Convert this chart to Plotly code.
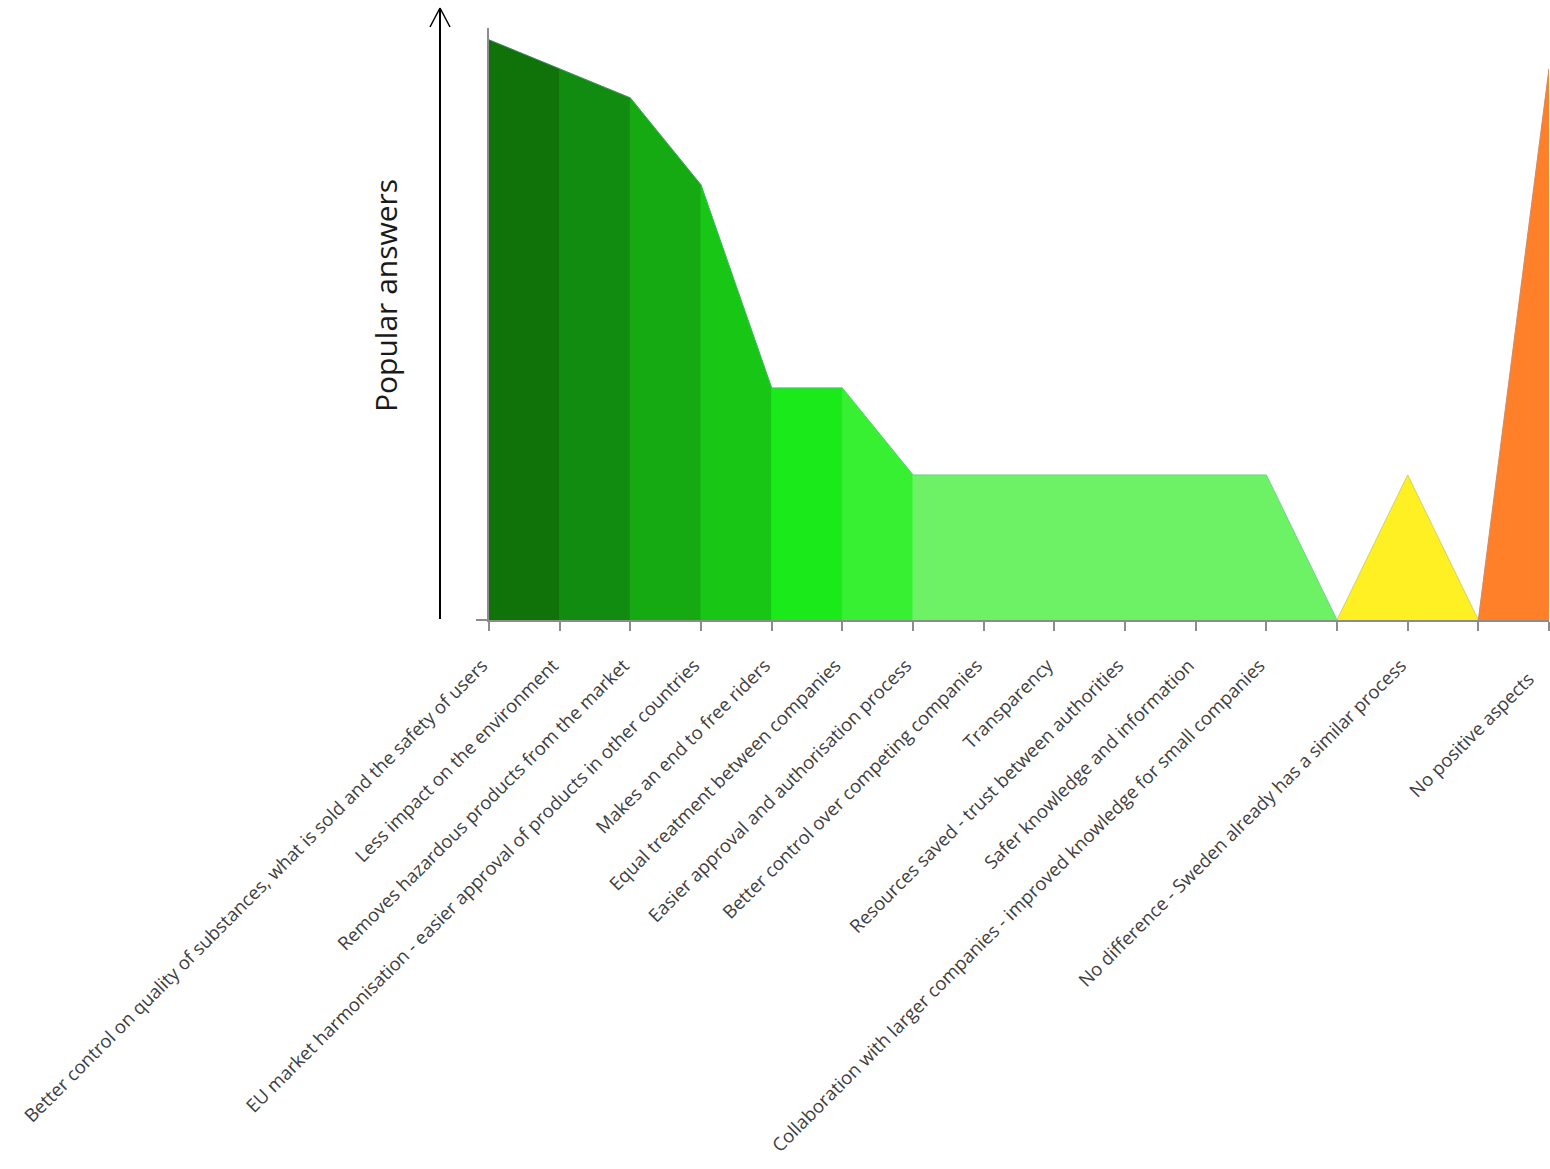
import plotly.graph_objects as go

# ---- data ----
categories = [
    "Better control on quality of substances, what is sold and the safety of users",
    "Less impact on the environment",
    "Removes hazardous products from the market",
    "EU market harmonisation - easier approval of products in other countries",
    "Makes an end to free riders",
    "Equal treatment between companies",
    "Easier approval and authorisation process",
    "Better control over competing companies",
    "Transparency",
    "Resources saved - trust between authorities",
    "Safer knowledge and information",
    "Collaboration with larger companies - improved knowledge for small companies",
    "",
    "No difference - Sweden already has a similar process",
    "",
    "No positive aspects",
]
values = [20, 19, 18, 15, 8, 8, 5, 5, 5, 5, 5, 5, 0, 5, 0, 19]
segment_colors = [
    "#10730a", "#128c10", "#16aa12", "#18c616", "#1aea1a", "#38f032",
    "#6cf264", "#6cf264", "#6cf264", "#6cf264", "#6cf264", "#6cf264",
    "#fff023", "#fff023", "#ff8028",
]
y_title = "Popular answers"

# ---- layout geometry (page pixels; body margin removed) ----
W, H = 1550, 1169
ML = 489
MT = 28
BASE = 620
RIGHT = 1549
MR = W - RIGHT
MB = H - BASE
PW = W - ML - MR
PH = H - MT - MB
YMAX = 20.41


def px_x(p):
    return (p - ML) / PW


def px_y(p):
    return (BASE - p) / PH


x = list(range(len(values)))
# pad labels so their ends sit just left of the tick (as in the reference);
# the label at the right edge gets more room so it stays inside the page
tick_text = []
for i, c in enumerate(categories):
    if not c:
        tick_text.append(c)
    else:
        pad = 6 if i == len(categories) - 1 else 2
        tick_text.append(c + "\u00a0" * pad)

fig = go.Figure()
for i, col in enumerate(segment_colors):
    fig.add_trace(go.Scatter(
        x=[x[i], x[i], x[i + 1], x[i + 1], x[i]],
        y=[0, values[i], values[i + 1], 0, 0],
        mode="lines", fill="toself", fillcolor=col,
        line=dict(width=1, color=col), hoverinfo="skip", showlegend=False,
    ))
# thin edge line along top
fig.add_trace(go.Scatter(
    x=x, y=values, mode="lines",
    line=dict(color="rgba(120,160,220,0.35)", width=1),
    hoverinfo="skip", showlegend=False,
))

fig.update_layout(
    width=W, height=H,
    margin=dict(l=ML, r=MR, t=MT, b=MB, autoexpand=False),
    plot_bgcolor="white", paper_bgcolor="white",
    font=dict(family="Open Sans, sans-serif", color="#404040"),
    xaxis=dict(
        range=[0, len(values) - 1], tickmode="array", tickvals=x,
        ticktext=tick_text, tickangle=-45, ticks="outside", ticklen=9,
        tickcolor="#8c8c8c", tickwidth=1.5, showline=True, linecolor="#8c8c8c",
        linewidth=1.5, showgrid=False, zeroline=False, automargin=False,
        tickfont=dict(size=18.5, color="#404040"), ticklabelstandoff=10,
        ticklabeloverflow="allow",
    ),
    yaxis=dict(
        range=[0, YMAX], tickmode="array", tickvals=[0], showticklabels=False,
        ticks="outside", ticklen=11, tickcolor="#8c8c8c", tickwidth=1.5,
        showline=True, linecolor="#8c8c8c", linewidth=1.5, showgrid=False,
        zeroline=False, automargin=False,
    ),
)

# y arrow
ax_x = px_x(440)
fig.add_shape(type="line", xref="paper", yref="paper",
              x0=ax_x, x1=ax_x, y0=px_y(619), y1=px_y(8),
              line=dict(color="black", width=2))
fig.add_shape(type="line", xref="paper", yref="paper",
              x0=px_x(430), x1=ax_x, y0=px_y(27), y1=px_y(8),
              line=dict(color="black", width=1.5))
fig.add_shape(type="line", xref="paper", yref="paper",
              x0=px_x(450), x1=ax_x, y0=px_y(27), y1=px_y(8),
              line=dict(color="black", width=1.5))

fig.add_annotation(
    text=y_title, xref="paper", yref="paper", x=px_x(385), y=px_y(296),
    textangle=-90, showarrow=False, xanchor="center", yanchor="middle",
    font=dict(size=30, color="#1a1a1a", family="Open Sans, sans-serif"),
)

fig.write_html(
    "out.html",
    config={"displayModeBar": False},
    post_script="document.body.style.margin='0';document.body.style.overflow='hidden';",
)
